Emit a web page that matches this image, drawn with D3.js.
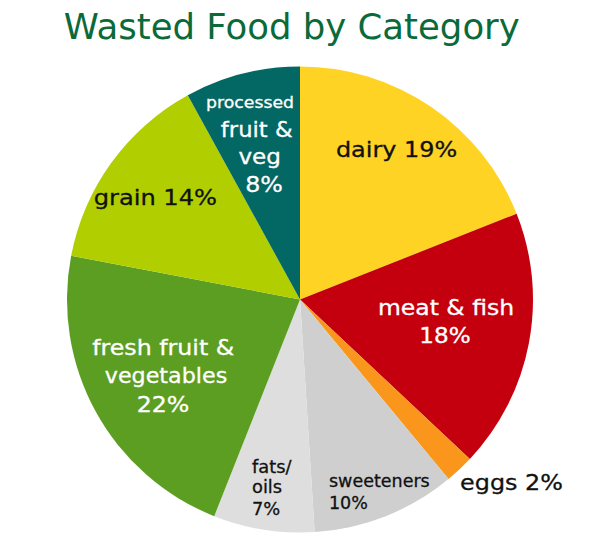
<!DOCTYPE html>
<html><head><meta charset="utf-8">
<script src="https://cdn.jsdelivr.net/npm/d3@7"></script>
<style>body{margin:0;background:#fff}svg{display:block}</style>
</head><body>
<script>
// ---- data ----
const title = "Wasted Food by Category";
const categories = ["dairy", "meat & fish", "eggs", "sweeteners", "fats/oils",
                    "fresh fruit & vegetables", "grain", "processed fruit & veg"];
const values = [19, 18, 2, 10, 7, 22, 14, 8];
const labelLines = [
  ["dairy 19%"],
  ["meat & fish", "18%"],
  ["eggs 2%"],
  ["sweeteners", "10%"],
  ["fats/", "oils", "7%"],
  ["fresh fruit &", "vegetables", "22%"],
  ["grain 14%"],
  ["processed", "fruit &", "veg", "8%"]
];

// ---- styles ----
const colors = ["#FED324", "#C4000E", "#F9961B", "#CFCFCF", "#DEDEDE", "#5B9E22", "#B1CF00", "#036763"];
const FONT = "DejaVu Sans, Verdana, sans-serif";
// label placement: radius fraction, anchor, colour, per-line offsets / size / horizontal stretch
const labelStyle = [
  {k: 0.75, anchor: "middle", fill: "#111", lines: [{dx: -1.7, dy: 2.3, fs: 21, sx: 1.14}]},
  {k: 0.63, anchor: "middle", fill: "#fff", lines: [{dx: 1.8, dy: -12, fs: 21, sx: 1.12}, {dx: 0.8, dy: 16, fs: 21, sx: 1.1}]},
  {k: 1.08, anchor: "start", fill: "#111", lines: [{dx: -12.2, dy: 7.1, fs: 21.5, sx: 1.11}]},
  {k: 0.88, anchor: "start", fill: "#111", lines: [{dx: -46.5, dy: -3.1, fs: 17.5, sx: 1.0}, {dx: -46.5, dy: 19.2, fs: 17.5, sx: 1.0}]},
  {k: 0.81, anchor: "start", fill: "#111", lines: [{dx: -18.5, dy: -13.2, fs: 17.5, sx: 1.02}, {dx: -18.5, dy: 7.1, fs: 17.5, sx: 1.02}, {dx: -18.5, dy: 29.1, fs: 17.5, sx: 1.02}]},
  {k: 0.67, anchor: "middle", fill: "#fff", lines: [{dx: 0, dy: -19.7, fs: 21, sx: 1.13}, {dx: 2.8, dy: 8.3, fs: 21, sx: 1.06}, {dx: -0.2, dy: 37, fs: 21, sx: 1.13}]},
  {k: 0.76, anchor: "middle", fill: "#111", lines: [{dx: -1.4, dy: 9.6, fs: 21, sx: 1.15}]},
  {k: 0.68, anchor: "middle", fill: "#fff", lines: [{dx: -10.6, dy: -37.8, fs: 16, sx: 1.08}, {dx: -3.9, dy: -9.4, fs: 22, sx: 1.03}, {dx: -0.9, dy: 17.9, fs: 22, sx: 1.05}, {dx: 3.4, dy: 45.6, fs: 22, sx: 1.08}]}
];

const W = 600, H = 548, cx = 300, cy = 299.5, R = 233;

const svg = d3.select("body").append("svg").attr("width", W).attr("height", H);

svg.append("text")
  .attr("x", 291.7).attr("y", 39.3)
  .attr("text-anchor", "middle")
  .attr("font-family", FONT).attr("font-size", 35.5)
  .attr("fill", "#0B6A3A")
  .text(title);

const data = categories.map((c, i) => ({category: c, value: values[i], lines: labelLines[i], i}));
const pie = d3.pie().value(d => d.value).sort(null);
const arcs = pie(data);
const arc = d3.arc().innerRadius(0).outerRadius(R);

const g = svg.append("g").attr("transform", `translate(${cx},${cy})`);

g.selectAll("path.slice").data(arcs).join("path")
  .attr("class", "slice")
  .attr("d", arc)
  .attr("fill", d => colors[d.data.i]);

arcs.forEach(a => {
  const st = labelStyle[a.data.i];
  const lr = R * st.k;
  const [x, y] = d3.arc().innerRadius(lr).outerRadius(lr).centroid(a);
  a.data.lines.forEach((t, j) => {
    const ls = st.lines[j];
    g.append("text")
      .attr("transform", `translate(${x + ls.dx},${y + ls.dy}) scale(${ls.sx},1)`)
      .attr("text-anchor", st.anchor)
      .attr("font-family", FONT)
      .attr("font-size", ls.fs)
      .attr("fill", st.fill)
      .attr("stroke", st.fill)
      .attr("stroke-width", 0.3)
      .text(t);
  });
});
</script>
</body></html>
